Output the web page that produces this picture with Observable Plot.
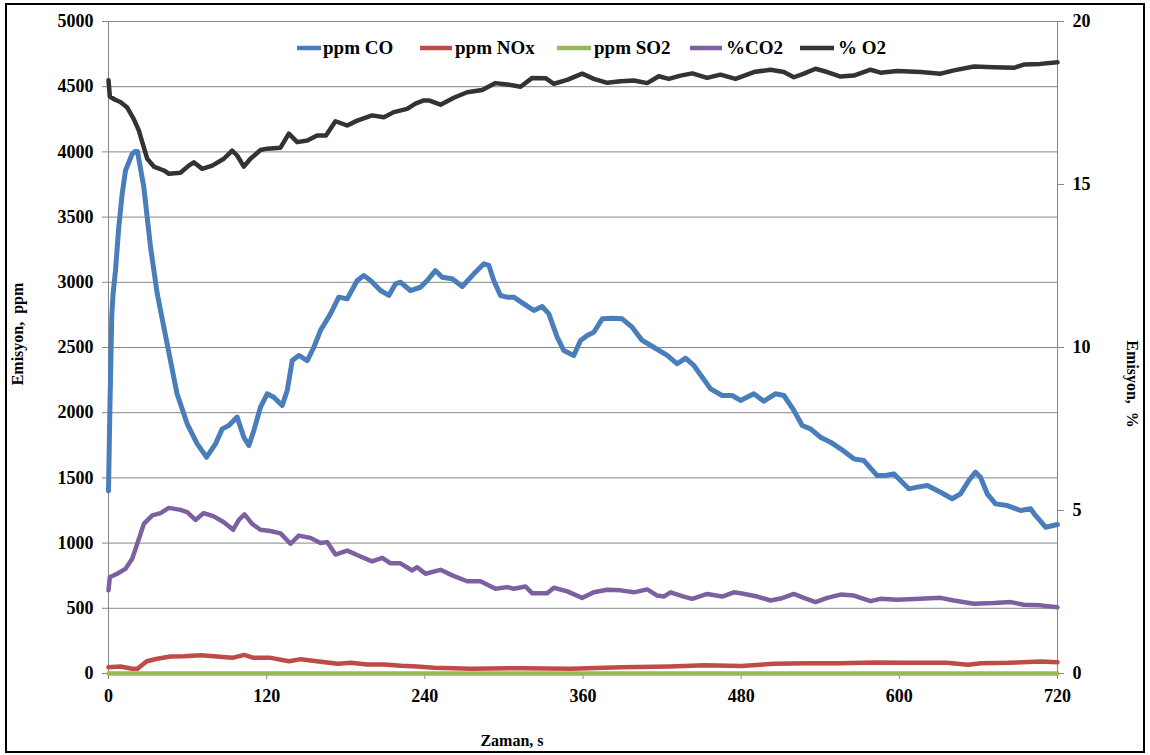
<!DOCTYPE html>
<html>
<head>
<meta charset="utf-8">
<script src="https://cdn.jsdelivr.net/npm/d3@7"></script>
<script src="https://cdn.jsdelivr.net/npm/@observablehq/plot@0.6"></script>
<style>
  body { margin: 0; background: #fff; }
  #wrap { position: relative; width: 1150px; height: 755px; overflow: hidden; }
  #border { position: absolute; left: 5px; top: 3px; width: 1140px; height: 750px; border: 2px solid #000; box-sizing: border-box; pointer-events: none; }
  #wrap svg { position: absolute; left: 0; top: 0; }
</style>
</head>
<body>
<div id="wrap"><div id="border"></div></div>
<script>
// ---- Data (time in s) ----
const seriesNames = ["ppm CO", "ppm NOx", "ppm SO2", "%CO2", "% O2"];
const seriesColors = ["#4a7ebb", "#be4b48", "#98b954", "#7d60a0", "#333333"];

const xTicks = [0, 120, 240, 360, 480, 600, 720];
const ppmTicks = [0, 500, 1000, 1500, 2000, 2500, 3000, 3500, 4000, 4500, 5000];
const pctTicks = [0, 5, 10, 15, 20];

const coTime = [0,1,2.5,3.5,5.3,7.8,10.4,12.9,18,20,22,26.8,31.9,37,42,47,52,59.7,67.3,74.4,81.2,86.3,91.3,97.6,102.7,106.5,110.3,115.3,120.4,125.4,131.8,135.6,139.4,144.4,150.8,155.8,160.8,168.4,174.7,181.1,188.7,193.7,198.8,206.4,212.7,217.8,221.5,229,236.7,241.8,248,253.2,260.8,268.4,277.2,284.8,288.6,292.3,297.4,302.5,307.5,315.1,322.7,329,334.1,340.4,345.4,353,358.1,363.2,368.2,374.6,382.2,389.7,397.3,404.9,413.7,423.9,431.5,437.8,444.1,450.5,456.8,465.6,473.2,479.5,489.6,497.2,506,512.4,520,526.3,532.6,540.2,547.8,555.4,565.5,573.1,583.2,589.5,595.8,600.9,607.2,613.6,621.2,631.3,640.1,646.4,652.7,657.8,661.6,666.7,673,681.9,692,699.6,703.3,711,720];
const coPpm = [1400,2000,2750,2914,3090,3423,3680,3857,3985,4003,4003,3730,3269,2912,2656,2400,2145,1915,1761,1659,1761,1876,1902,1966,1812,1748,1864,2042,2145,2119,2055,2170,2400,2439,2400,2502,2630,2758,2886,2873,3014,3052,3014,2937,2899,2988,3001,2937,2962,3014,3090,3039,3027,2968,3065,3142,3129,3014,2899,2886,2886,2835,2784,2814,2758,2579,2477,2439,2554,2592,2617,2720,2725,2720,2656,2554,2502,2439,2375,2418,2362,2272,2183,2132,2132,2094,2145,2088,2145,2132,2017,1902,1876,1812,1774,1723,1646,1633,1518,1518,1531,1480,1416,1429,1442,1390,1340,1378,1480,1544,1505,1378,1301,1288,1250,1263,1212,1122,1143];

const noxTime = [0,9,18,22,29,37,47,57,70,80,94,103,110,123,137,146,158,174,184,196,209,222,234,247,275,313,351,389,426,452,480,505,530,555,581,606,636,652,662,682,707,720];
const noxPpm = [48,54,36,36,94,113,130,133,140,133,120,143,120,120,94,110,94,74,82,69,69,59,54,44,36,41,36,48,54,64,58,74,79,79,84,82,82,67,79,82,92,87];

const so2Time = [0,120,240,360,480,600,720];
const so2Ppm = [0,0,0,0,0,0,0];

const co2Time = [0,1,6.6,12.9,18,21.8,26.8,33.2,39.5,45.8,54.6,59.7,66,72.3,79.9,87.5,94.6,98.9,103.2,109,115.3,122.9,130.5,138.1,144.4,153.3,160.8,165.9,172.2,181.1,191.2,200,207.7,214,221.5,230.4,234.2,240.5,251.9,260.8,272.1,282.2,293.6,302.5,307.5,316.4,321.5,332.8,337.9,348,359.4,368.2,378.4,388.5,398.6,408.7,416.3,421.3,426.4,436.5,442.9,454.2,465.6,474.4,479.5,492.2,502.3,510,520,527.6,536.4,545.3,555.4,565.5,578.2,585.7,598.4,616.1,631.3,641.4,656.6,671.8,684.4,694.5,707.1,720];
const co2Pct = [2.55,2.95,3.06,3.21,3.52,3.98,4.59,4.85,4.92,5.08,5.02,4.95,4.71,4.92,4.82,4.64,4.41,4.71,4.88,4.59,4.41,4.37,4.30,3.98,4.23,4.16,4.00,4.03,3.65,3.77,3.59,3.44,3.55,3.38,3.38,3.16,3.26,3.06,3.18,3.01,2.83,2.83,2.60,2.65,2.60,2.67,2.46,2.46,2.63,2.52,2.32,2.49,2.57,2.55,2.49,2.58,2.39,2.36,2.49,2.36,2.29,2.44,2.36,2.49,2.46,2.36,2.24,2.30,2.44,2.32,2.19,2.32,2.42,2.39,2.22,2.29,2.26,2.29,2.32,2.24,2.14,2.16,2.19,2.11,2.09,2.03];

const o2Time = [0,1,5,9,14,19,23,25.6,29.4,34.4,42,45.8,54.6,60.9,64.7,71.1,78.7,87.5,93.8,97.6,102.7,107.7,115.3,120.4,130.5,136.8,143.2,150.8,158.3,165,172.2,181.1,188.7,200,208.9,216.5,226.6,232.9,239.2,243,251.9,262,272.1,283.5,293.6,302.5,312.6,321.5,331.6,337.9,348,359.4,368.2,378.4,388.5,398.6,408.7,417.5,425.1,434,442.9,454.2,464.3,475.7,489.6,502.3,512.4,520,527.6,536.4,545.3,555.4,565.5,578.2,585.7,598.4,616.1,631.3,641.4,656.6,671.8,687,694.5,707.1,720];
const o2Pct = [18.2,17.7,17.6,17.53,17.37,17.02,16.66,16.3,15.79,15.55,15.43,15.33,15.36,15.58,15.68,15.48,15.58,15.79,16.04,15.89,15.55,15.79,16.06,16.10,16.13,16.56,16.30,16.35,16.50,16.50,16.94,16.81,16.96,17.12,17.06,17.22,17.32,17.48,17.58,17.58,17.45,17.66,17.83,17.90,18.11,18.07,18.00,18.27,18.26,18.09,18.21,18.40,18.24,18.12,18.17,18.19,18.11,18.32,18.24,18.34,18.41,18.27,18.37,18.24,18.45,18.52,18.45,18.29,18.40,18.55,18.45,18.31,18.34,18.52,18.43,18.48,18.45,18.40,18.50,18.62,18.60,18.58,18.68,18.70,18.75];

// ---- Build tables ----
const ppmPerPct = 5000 / 20; // right axis (0–20 %) shares the left axis span (0–5000 ppm)
const toRows = (ts, vs, k) => ts.map((t, i) => ({t, y: vs[i] * k}));
const series = [
  toRows(coTime, coPpm, 1),
  toRows(noxTime, noxPpm, 1),
  toRows(so2Time, so2Ppm, 1),
  toRows(co2Time, co2Pct, ppmPerPct),
  toRows(o2Time, o2Pct, ppmPerPct)
];

const font = "'Liberation Serif', 'Times New Roman', serif";
const gridColor = "#878787";

const chart = Plot.plot({
  width: 1150,
  height: 755,
  marginLeft: 108,
  marginRight: 93,
  marginTop: 21,
  marginBottom: 82,
  style: {fontFamily: font, fontSize: "18px", fontWeight: "bold", color: "#000", background: "transparent", overflow: "visible"},
  x: {domain: [0, 720]},
  y: {domain: [0, 5000]},
  marks: [
    Plot.ruleY(ppmTicks.filter(d => d > 0), {stroke: gridColor, strokeWidth: 1}),
    Plot.ruleX([0, 720], {stroke: gridColor, strokeWidth: 1}),
    Plot.ruleY([0], {stroke: gridColor, strokeWidth: 1}),
    Plot.axisY({ticks: ppmTicks, tickFormat: d => String(d), tickSize: 6, tickPadding: 9, label: null, stroke: gridColor, fill: "#000"}),
    Plot.axisY({anchor: "right", ticks: pctTicks.map(p => p * ppmPerPct), tickFormat: d => String(d / ppmPerPct), tickSize: 6, tickPadding: 9, label: null, stroke: gridColor, fill: "#000"}),
    Plot.axisX({ticks: xTicks, tickFormat: d => String(d), tickSize: 6, tickPadding: 10, label: null, stroke: gridColor, fill: "#000"}),
    ...series.map((rows, i) => Plot.line(rows, {x: "t", y: "y", stroke: seriesColors[i], strokeWidth: i === 0 ? 5 : 4.5, strokeLinejoin: "round", strokeLinecap: "round"}))
  ]
});

document.getElementById("wrap").prepend(chart);

const svg = d3.select(chart);
const titleStyle = sel => sel.attr("font-family", font).attr("font-size", 16).attr("font-weight", "bold").attr("fill", "#000").attr("text-anchor", "middle").style("white-space", "pre");

svg.append("text").call(titleStyle).attr("transform", "translate(23,334) rotate(-90)").text("Emisyon,  ppm");
svg.append("text").call(titleStyle).attr("transform", "translate(1127,384) rotate(90)").text("Emisyon,  %");
svg.append("text").call(titleStyle).attr("x", 512).attr("y", 746).text("Zaman, s");

// ---- Legend (inside plot, top) ----
const legendLineX = [[297, 321], [420, 452], [557, 591], [690, 722], [800, 834]];
const legendTextX = [323, 455, 594, 726, 838];
const lg = svg.append("g").attr("text-anchor", "start");
seriesNames.forEach((name, i) => {
  lg.append("line").attr("x1", legendLineX[i][0]).attr("x2", legendLineX[i][1]).attr("y1", 48).attr("y2", 48)
    .attr("stroke", seriesColors[i]).attr("stroke-width", 4.5);
  lg.append("text").attr("x", legendTextX[i]).attr("y", 54).attr("text-anchor", "start")
    .attr("font-family", font).attr("font-size", 19).attr("font-weight", "bold").attr("fill", "#000")
    .text(name);
});
</script>
</body>
</html>
